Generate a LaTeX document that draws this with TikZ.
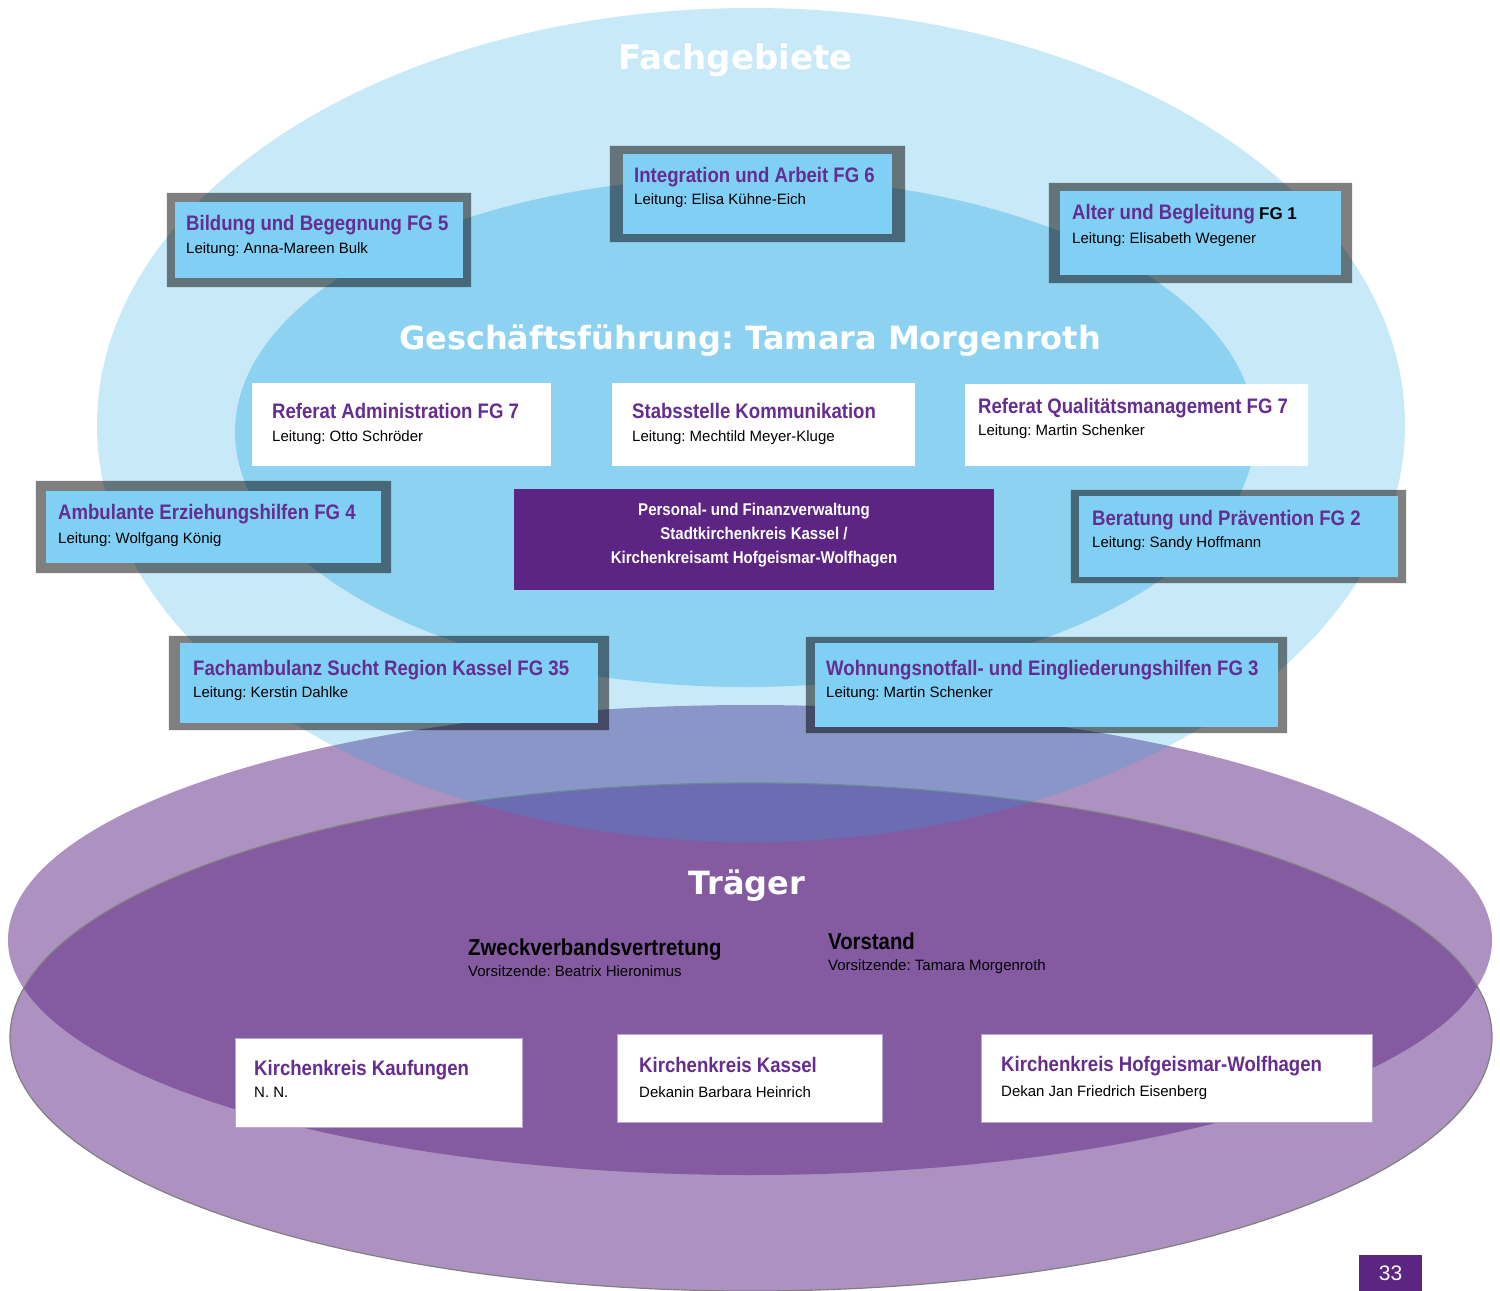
\documentclass[tikz,border=0pt]{standalone}
\usepackage{fontspec}
\setmainfont{Liberation Sans}
\newfontfamily\narrowfont{Liberation Sans}[FakeStretch=0.885]
\newfontfamily\headfont{DejaVu Sans}
\definecolor{BoxBlue}{HTML}{80CFF4}
\definecolor{SkyBase}{HTML}{1DA7E5}
\definecolor{PurpleBase}{HTML}{5C2483}
\definecolor{TitlePurple}{HTML}{662D91}
\definecolor{LilacLine}{HTML}{B9A6D2}
\usetikzlibrary{calc}
\newcommand{\fgtitle}[1]{{\narrowfont\bfseries\fontsize{21}{23}\selectfont\color{TitlePurple}#1}}

\begin{document}
\frenchspacing
\begin{tikzpicture}[
  x=1pt, y=-1pt,
  fgbox/.style={rectangle, fill=BoxBlue, inner sep=0pt},
  refbox/.style={rectangle, fill=white, inner sep=0pt},
  kkbox/.style={rectangle, fill=white, draw=LilacLine, line width=1pt, inner sep=0pt},
  fgframe/.style={fill=black, fill opacity=0.5, even odd rule},
  boxtext/.style={anchor=base west, inner sep=0pt, align=left,
    font=\fontsize{15}{23}\selectfont},
  heading/.style={anchor=base, inner sep=0pt, text=white,
    font=\headfont\bfseries\fontsize{34}{40}\selectfont}
]
  \useasboundingbox (0,0) rectangle (1500,1291);
  \fill[white] (0,0) rectangle (1500,1291);

  % Traeger: two overlapping ellipses
  \fill[PurpleBase, fill opacity=0.5] (750,940) ellipse [x radius=742, y radius=235];
  \filldraw[fill=PurpleBase, fill opacity=0.5, draw=black!50, line width=1.2pt]
    (751,1037) ellipse [x radius=741, y radius=254];

  % Fachgebiete and Geschaeftsfuehrung
  \fill[SkyBase, fill opacity=0.24] (751,425) ellipse [x radius=654, y radius=417];
  \fill[SkyBase, fill opacity=0.34] (745,432) ellipse [x radius=510, y radius=255];

  % Headings
  \node[heading] (fachgebiete) at (735.5,69) {Fachgebiete};
  \node[heading, font=\headfont\bfseries\fontsize{32}{38}\selectfont] (gf) at (750,349)
    {Geschäftsführung: Tamara Morgenroth};
  \node[heading, font=\headfont\bfseries\fontsize{32}{38}\selectfont] (traeger) at (747,894)
    {Träger};

  % Fachgebiete boxes
  \node[fgbox, minimum width=288, minimum height=76] (fg5) at (319,240) {};
  \node[fgbox, minimum width=269, minimum height=80] (fg6) at (757.5,194) {};
  \node[fgbox, minimum width=281, minimum height=84] (fg1) at (1200.5,233) {};
  \node[fgbox, minimum width=335, minimum height=72] (fg4) at (213.5,527) {};
  \node[fgbox, minimum width=319, minimum height=81] (fg2) at (1238.5,536.5) {};
  \node[fgbox, minimum width=418, minimum height=80] (fg35) at (389,683) {};
  \node[fgbox, minimum width=463, minimum height=84] (fg3) at (1046.5,685) {};

  % Frames
  \foreach \n/\fx/\fy in {fg5/8/9, fg6/13/8, fg1/11/8, fg4/10/10, fg2/8/6, fg35/11/7, fg3/9/6}
    \fill[fgframe] ($(\n.north west)+(-\fx,-\fy)$) rectangle ($(\n.south east)+(\fx,\fy)$)
      (\n.north west) rectangle (\n.south east);

  % base of the text nodes is the second line
  \node[boxtext] (fg5text) at (186,253)
    {\fgtitle{Bildung und Begegnung FG 5}\\Leitung: Anna-Mareen Bulk};
  \node[boxtext, font=\fontsize{15}{22}\selectfont] (fg6text) at (634,204)
    {\fgtitle{Integration und Arbeit FG 6}\\Leitung: Elisa Kühne-Eich};
  \node[boxtext, font=\fontsize{15}{24}\selectfont] (fg1text) at (1072,243)
    {\fgtitle{Alter und Begleitung} {\bfseries\fontsize{17}{23}\selectfont FG 1}\\Leitung: Elisabeth Wegener};
  \node[boxtext, font=\fontsize{15}{24}\selectfont] (fg4text) at (58,543)
    {\fgtitle{Ambulante Erziehungshilfen FG 4}\\Leitung: Wolfgang König};
  \node[boxtext, font=\fontsize{15}{22}\selectfont] (fg2text) at (1092,547)
    {\fgtitle{Beratung und Prävention FG 2}\\Leitung: Sandy Hoffmann};
  \node[boxtext, font=\fontsize{15}{22}\selectfont] (fg35text) at (193,697)
    {\fgtitle{Fachambulanz Sucht Region Kassel FG 35}\\Leitung: Kerstin Dahlke};
  \node[boxtext, font=\fontsize{15}{22}\selectfont] (fg3text) at (826,697)
    {\fgtitle{Wohnungsnotfall- und Eingliederungshilfen FG 3}\\Leitung: Martin Schenker};

  % Referate
  \node[refbox, minimum width=299, minimum height=83] (refadm) at (401.5,424.5) {};
  \node[refbox, minimum width=303, minimum height=83] (stabs) at (763.5,424.5) {};
  \node[refbox, minimum width=343, minimum height=82] (refqm) at (1136.5,425) {};
  \node[boxtext] (refadmtext) at (272,441)
    {\fgtitle{Referat Administration FG 7}\\Leitung: Otto Schröder};
  \node[boxtext] (stabstext) at (632,441)
    {\fgtitle{Stabsstelle Kommunikation}\\Leitung: Mechtild Meyer-Kluge};
  \node[boxtext, font=\fontsize{15}{22}\selectfont] (refqmtext) at (978,435)
    {\fgtitle{Referat Qualitätsmanagement FG 7}\\Leitung: Martin Schenker};

  % Personal- und Finanzverwaltung
  \node[rectangle, fill=PurpleBase, inner sep=0pt, minimum width=480, minimum height=101]
    (pfv) at (754,539.5) {};
  \node[anchor=base, align=center, inner sep=0pt, text=white,
    font=\narrowfont\bfseries\fontsize{17}{24}\selectfont] (pfvtext) at (754,563)
    {Personal- und Finanzverwaltung\\Stadtkirchenkreis Kassel /\\Kirchenkreisamt Hofgeismar-Wolfhagen};

  % Traeger
  \node[boxtext, font=\fontsize{15}{21}\selectfont] (zweck) at (468,976)
    {{\narrowfont\bfseries\fontsize{23}{21}\selectfont Zweckverbandsvertretung}\\Vorsitzende: Beatrix Hieronimus};
  \node[boxtext, font=\fontsize{15}{21}\selectfont] (vorstand) at (828,970)
    {{\narrowfont\bfseries\fontsize{23}{21}\selectfont Vorstand}\\Vorsitzende: Tamara Morgenroth};

  \node[kkbox, minimum width=287, minimum height=89] (kkkauf) at (378.5,1082.5) {};
  \node[kkbox, minimum width=265, minimum height=88] (kkkassel) at (749.5,1078) {};
  \node[kkbox, minimum width=391, minimum height=88] (kkhof) at (1176.5,1078) {};
  \node[boxtext, font=\fontsize{15}{22}\selectfont] (kkkauftext) at (254,1097)
    {\fgtitle{Kirchenkreis Kaufungen}\\N. N.};
  \node[boxtext, font=\fontsize{15}{25}\selectfont] (kkkasseltext) at (639,1097)
    {\fgtitle{Kirchenkreis Kassel}\\Dekanin Barbara Heinrich};
  \node[boxtext, font=\fontsize{15}{25}\selectfont] (kkhoftext) at (1001,1096)
    {\fgtitle{Kirchenkreis Hofgeismar-Wolfhagen}\\Dekan Jan Friedrich Eisenberg};

  % Page number
  \node[rectangle, fill=PurpleBase, inner sep=0pt, minimum width=63, minimum height=36,
    text=white, font=\fontsize{21}{24}\selectfont] (page) at (1390.5,1273) {33};
\end{tikzpicture}
\end{document}
